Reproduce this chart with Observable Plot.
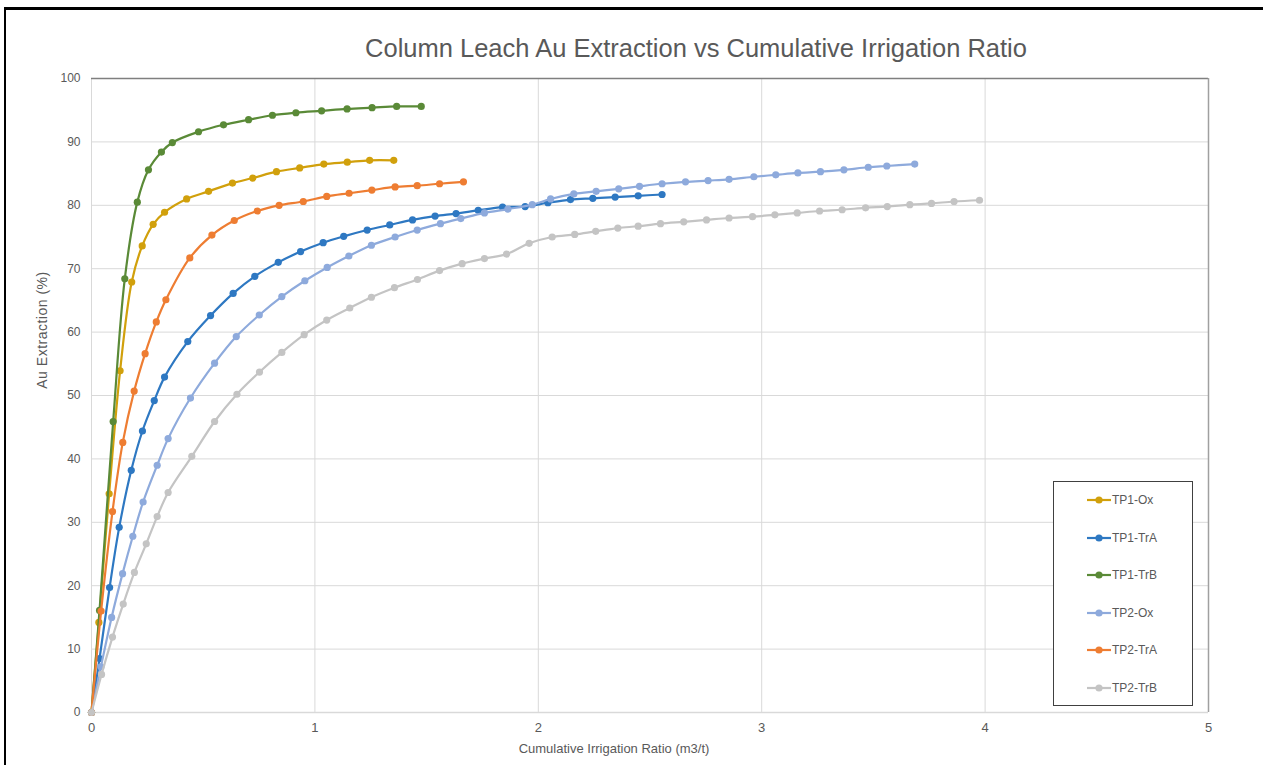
<!DOCTYPE html>
<html>
<head>
<meta charset="utf-8">
<script src="https://cdn.jsdelivr.net/npm/d3@7"></script>
<script src="https://cdn.jsdelivr.net/npm/@observablehq/plot@0.6"></script>
<style>
  html, body { margin: 0; padding: 0; background: #fff; }
  body { width: 1263px; height: 765px; overflow: hidden; position: relative; font-family: "Liberation Sans", Arial, sans-serif; }
  #frame { position: absolute; left: 4px; top: 7px; width: 1265px; height: 770px; border-top: 3px solid #000; border-left: 2px solid #000; box-sizing: border-box; }
  #chart { position: absolute; left: 0; top: 0; }
  #title { position: absolute; top: 34px; left: 696px; transform: translateX(-50%); white-space: nowrap; font-size: 25.5px; color: #595959; }
  #ylabel { position: absolute; left: 42px; top: 330px; transform: translate(-50%, -50%) rotate(-90deg); white-space: nowrap; font-size: 14px; letter-spacing: 0.5px; color: #595959; }
  #xlabel { position: absolute; left: 614px; top: 741px; transform: translateX(-50%); white-space: nowrap; font-size: 13px; color: #595959; }
  #legend { position: absolute; left: 1053px; top: 481px; width: 140px; height: 225px; border: 1.5px solid #404040; background: #fff; box-sizing: border-box; }
  .item { position: absolute; left: 33px; height: 16px; display: flex; align-items: center; font-size: 12px; color: #595959; }
  .item svg { margin-right: 1px; }
</style>
</head>
<body>
<div id="frame"></div>
<div id="chart"></div>
<div id="title">Column Leach Au Extraction vs Cumulative Irrigation Ratio</div>
<div id="ylabel">Au Extraction (%)</div>
<div id="xlabel">Cumulative Irrigation Ratio (m3/t)</div>
<div id="legend"></div>
<script>
const seriesNames = ["TP1-Ox", "TP1-TrA", "TP1-TrB", "TP2-Ox", "TP2-TrA", "TP2-TrB"];
const seriesColors = ["#d1a00c", "#2e78c2", "#5a8a37", "#8eaadc", "#ee7d32", "#c4c4c4"];

const tp1OxX = [0, 0.033, 0.079, 0.128, 0.180, 0.227, 0.276, 0.327, 0.426, 0.524, 0.631, 0.722, 0.828, 0.932, 1.04, 1.145, 1.245, 1.353];
const tp1OxY = [0, 14.2, 34.5, 53.9, 67.9, 73.6, 77.0, 78.9, 81.0, 82.2, 83.5, 84.3, 85.3, 85.9, 86.5, 86.8, 87.1, 87.1];

const tp1TrAX = [0, 0.036, 0.081, 0.124, 0.178, 0.228, 0.281, 0.327, 0.431, 0.533, 0.634, 0.731, 0.836, 0.936, 1.037, 1.129, 1.234, 1.335, 1.437, 1.538, 1.632, 1.731, 1.84, 1.941, 2.043, 2.144, 2.244, 2.344, 2.447, 2.554];
const tp1TrAY = [0, 8.5, 19.7, 29.2, 38.2, 44.4, 49.2, 52.9, 58.5, 62.6, 66.1, 68.8, 71.0, 72.7, 74.1, 75.1, 76.1, 76.9, 77.7, 78.3, 78.7, 79.2, 79.7, 79.8, 80.4, 80.9, 81.1, 81.3, 81.5, 81.7];

const tp1TrBX = [0, 0.036, 0.097, 0.149, 0.205, 0.255, 0.313, 0.362, 0.479, 0.591, 0.703, 0.81, 0.915, 1.03, 1.144, 1.256, 1.366, 1.476];
const tp1TrBY = [0, 16.1, 45.9, 68.4, 80.5, 85.6, 88.4, 89.9, 91.6, 92.7, 93.5, 94.2, 94.6, 94.9, 95.2, 95.4, 95.6, 95.6];

const tp2OxX = [0, 0.042, 0.09, 0.139, 0.185, 0.231, 0.294, 0.343, 0.443, 0.551, 0.648, 0.751, 0.852, 0.955, 1.055, 1.152, 1.253, 1.359, 1.458, 1.562, 1.653, 1.759, 1.864, 1.973, 2.055, 2.159, 2.259, 2.36, 2.453, 2.554, 2.659, 2.76, 2.854, 2.965, 3.063, 3.162, 3.263, 3.368, 3.477, 3.56, 3.685];
const tp2OxY = [0, 7.2, 15.0, 21.9, 27.8, 33.2, 39.0, 43.2, 49.6, 55.1, 59.3, 62.7, 65.6, 68.1, 70.2, 72.0, 73.7, 75.0, 76.1, 77.1, 77.9, 78.8, 79.4, 80.1, 81.0, 81.8, 82.2, 82.6, 83.0, 83.4, 83.7, 83.9, 84.1, 84.5, 84.8, 85.1, 85.3, 85.6, 86.0, 86.2, 86.5];

const tp2TrAX = [0, 0.043, 0.094, 0.140, 0.191, 0.240, 0.290, 0.333, 0.44, 0.539, 0.639, 0.742, 0.84, 0.948, 1.053, 1.153, 1.255, 1.359, 1.458, 1.558, 1.665];
const tp2TrAY = [0, 16.0, 31.7, 42.6, 50.7, 56.6, 61.6, 65.1, 71.7, 75.3, 77.6, 79.1, 80.0, 80.6, 81.4, 81.9, 82.4, 82.9, 83.1, 83.4, 83.7];

const tp2TrBX = [0, 0.045, 0.094, 0.142, 0.192, 0.245, 0.294, 0.343, 0.449, 0.551, 0.651, 0.752, 0.852, 0.952, 1.053, 1.156, 1.253, 1.356, 1.459, 1.558, 1.659, 1.759, 1.858, 1.959, 2.062, 2.163, 2.257, 2.356, 2.447, 2.547, 2.651, 2.753, 2.854, 2.959, 3.059, 3.159, 3.259, 3.36, 3.465, 3.562, 3.663, 3.76, 3.861, 3.975];
const tp2TrBY = [0, 6.0, 11.9, 17.1, 22.1, 26.6, 30.9, 34.7, 40.4, 45.9, 50.2, 53.7, 56.8, 59.6, 61.9, 63.8, 65.5, 67.0, 68.3, 69.7, 70.8, 71.6, 72.3, 74.0, 75.0, 75.4, 75.9, 76.4, 76.7, 77.1, 77.4, 77.7, 78.0, 78.2, 78.5, 78.8, 79.1, 79.3, 79.6, 79.8, 80.1, 80.3, 80.6, 80.8];

const xTicks = [0, 1, 2, 3, 4, 5];
const yTicks = [0, 10, 20, 30, 40, 50, 60, 70, 80, 90, 100];

const seriesXY = [
  [tp1OxX, tp1OxY], [tp1TrAX, tp1TrAY], [tp1TrBX, tp1TrBY],
  [tp2OxX, tp2OxY], [tp2TrAX, tp2TrAY], [tp2TrBX, tp2TrBY]
];

const marks = [
  Plot.gridX(xTicks.slice(1, -1), {stroke: "#d9d9d9", strokeOpacity: 1, strokeWidth: 1}),
  Plot.gridY(yTicks.slice(1, -1), {stroke: "#d9d9d9", strokeOpacity: 1, strokeWidth: 1}),
  Plot.ruleX([0], {stroke: "#d9d9d9", strokeWidth: 1}),
  Plot.ruleY([0], {stroke: "#d9d9d9", strokeWidth: 1.5}),
  Plot.ruleY([100], {stroke: "#7f7f7f", strokeWidth: 1.5}),
  Plot.ruleX([5], {stroke: "#a0a0a0", strokeWidth: 1.5}),
  Plot.axisX(xTicks, {tickSize: 0, tickPadding: 10, fontSize: 13, fill: "#595959", label: null, tickFormat: d => String(d)}),
  Plot.axisY(yTicks, {tickSize: 0, tickPadding: 11, fontSize: 12, fill: "#595959", label: null, tickFormat: d => String(d)})
];

seriesXY.forEach(([xs, ys], i) => {
  const data = xs.map((x, j) => ({x, y: ys[j]}));
  marks.push(Plot.line(data, {x: "x", y: "y", stroke: seriesColors[i], strokeWidth: 2.2, curve: "catmull-rom"}));
  marks.push(Plot.dot(data, {x: "x", y: "y", fill: seriesColors[i], r: 3.6}));
});

const chart = Plot.plot({
  width: 1263,
  height: 765,
  marginLeft: 91,
  marginRight: 55,
  marginTop: 78,
  marginBottom: 53,
  style: {background: "transparent", fontFamily: "'Liberation Sans', Arial, sans-serif"},
  x: {domain: [0, 5]},
  y: {domain: [0, 100]},
  marks
});
document.getElementById("chart").appendChild(chart);

const legend = document.getElementById("legend");
const legendTops = [10, 48, 85, 123, 160, 198];
seriesNames.forEach((name, i) => {
  const div = document.createElement("div");
  div.className = "item";
  div.style.top = legendTops[i] + "px";
  div.innerHTML = `<svg width="24" height="10"><line x1="0" y1="5" x2="24" y2="5" stroke="${seriesColors[i]}" stroke-width="2.2"/><circle cx="12" cy="5" r="3.6" fill="${seriesColors[i]}"/></svg><span>${name}</span>`;
  legend.appendChild(div);
});
</script>
</body>
</html>
